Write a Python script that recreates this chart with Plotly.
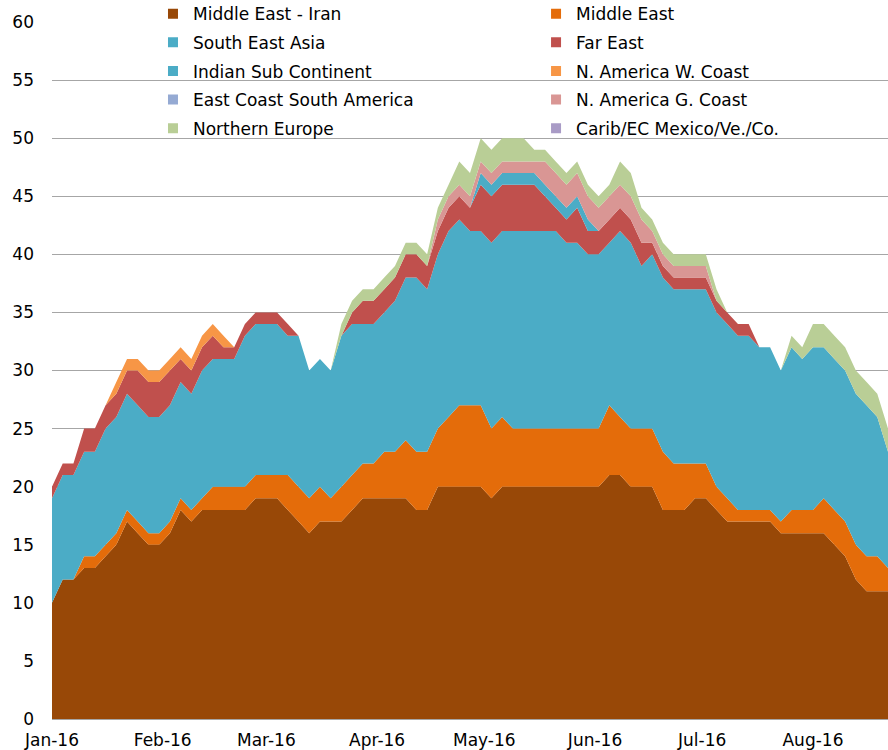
import pandas as pd
import plotly.graph_objects as go

# sampled every 3 days from 1 Jan 2016
dates = pd.date_range('2016-01-01', periods=79, freq='3D')

middle_east_iran = [10, 12, 12, 13, 13, 14, 15, 17, 16, 15,
                    15, 16, 18, 17, 18, 18, 18, 18, 18, 19,
                    19, 19, 18, 17, 16, 17, 17, 17, 18, 19,
                    19, 19, 19, 19, 18, 18, 20, 20, 20, 20,
                    20, 19, 20, 20, 20, 20, 20, 20, 20, 20,
                    20, 20, 21, 21, 20, 20, 20, 18, 18, 18,
                    19, 19, 18, 17, 17, 17, 17, 17, 16, 16,
                    16, 16, 16, 15, 14, 12, 11, 11, 11]
middle_east = [0, 0, 0, 1, 1, 1, 1, 1, 1, 1,
               1, 1, 1, 1, 1, 2, 2, 2, 2, 2,
               2, 2, 3, 3, 3, 3, 2, 3, 3, 3,
               3, 4, 4, 5, 5, 5, 5, 6, 7, 7,
               7, 6, 6, 5, 5, 5, 5, 5, 5, 5,
               5, 5, 6, 5, 5, 5, 5, 5, 4, 4,
               3, 3, 2, 2, 1, 1, 1, 1, 1, 2,
               2, 2, 3, 3, 3, 3, 3, 3, 2]
south_east_asia = [9, 9, 9, 9, 9, 10, 10, 10, 10, 10,
                   10, 10, 10, 10, 11, 11, 11, 11, 13, 13,
                   13, 13, 12, 13, 11, 11, 11, 13, 13, 12,
                   12, 12, 13, 14, 15, 14, 15, 16, 16, 15,
                   15, 16, 16, 17, 17, 17, 17, 17, 16, 16,
                   15, 15, 14, 16, 16, 14, 15, 15, 15, 15,
                   15, 15, 15, 15, 15, 15, 14, 14, 13, 14,
                   13, 14, 13, 13, 13, 13, 13, 12, 10]
far_east = [1, 1, 1, 2, 2, 2, 2, 2, 3, 3,
            3, 3, 2, 2, 2, 2, 1, 1, 1, 1,
            1, 1, 1, 0, 0, 0, 0, 0, 1, 2,
            2, 2, 2, 2, 2, 2, 2, 2, 2, 2,
            4, 4, 4, 4, 4, 4, 3, 2, 2, 3,
            2, 2, 2, 2, 2, 2, 1, 1, 1, 1,
            1, 1, 1, 1, 1, 1, 0, 0, 0, 0,
            0, 0, 0, 0, 0, 0, 0, 0, 0]
indian_sub_continent = [0, 0, 0, 0, 0, 0, 0, 0, 0, 0,
                        0, 0, 0, 0, 0, 0, 0, 0, 0, 0,
                        0, 0, 0, 0, 0, 0, 0, 0, 0, 0,
                        0, 0, 0, 0, 0, 0, 0, 0, 0, 0,
                        1, 1, 1, 1, 1, 1, 1, 1, 1, 1,
                        1, 0, 0, 0, 0, 0, 0, 0, 0, 0,
                        0, 0, 0, 0, 0, 0, 0, 0, 0, 0,
                        0, 0, 0, 0, 0, 0, 0, 0, 0]
na_west_coast = [0, 0, 0, 0, 0, 0, 1, 1, 1, 1,
                 1, 1, 1, 1, 1, 1, 1, 0, 0, 0,
                 0, 0, 0, 0, 0, 0, 0, 0, 0, 0,
                 0, 0, 0, 0, 0, 0, 0, 0, 0, 0,
                 0, 0, 0, 0, 0, 0, 0, 0, 0, 0,
                 0, 0, 0, 0, 0, 0, 0, 0, 0, 0,
                 0, 0, 0, 0, 0, 0, 0, 0, 0, 0,
                 0, 0, 0, 0, 0, 0, 0, 0, 0]
east_coast_south_america = [0, 0, 0, 0, 0, 0, 0, 0, 0, 0,
                            0, 0, 0, 0, 0, 0, 0, 0, 0, 0,
                            0, 0, 0, 0, 0, 0, 0, 0, 0, 0,
                            0, 0, 0, 0, 0, 0, 0, 0, 0, 0,
                            0, 0, 0, 0, 0, 0, 0, 0, 0, 0,
                            0, 0, 0, 0, 0, 0, 0, 0, 0, 0,
                            0, 0, 0, 0, 0, 0, 0, 0, 0, 0,
                            0, 0, 0, 0, 0, 0, 0, 0, 0]
na_gulf_coast = [0, 0, 0, 0, 0, 0, 0, 0, 0, 0,
                 0, 0, 0, 0, 0, 0, 0, 0, 0, 0,
                 0, 0, 0, 0, 0, 0, 0, 0, 0, 0,
                 0, 0, 0, 0, 0, 0, 1, 1, 1, 1,
                 1, 1, 1, 1, 1, 1, 2, 2, 2, 2,
                 2, 2, 2, 2, 2, 2, 1, 1, 1, 1,
                 1, 1, 0, 0, 0, 0, 0, 0, 0, 0,
                 0, 0, 0, 0, 0, 0, 0, 0, 0]
northern_europe = [0, 0, 0, 0, 0, 0, 0, 0, 0, 0,
                   0, 0, 0, 0, 0, 0, 0, 0, 0, 0,
                   0, 0, 0, 0, 0, 0, 0, 1, 1, 1,
                   1, 1, 1, 1, 1, 1, 1, 1, 2, 2,
                   2, 2, 2, 2, 2, 1, 1, 1, 1, 1,
                   1, 1, 1, 2, 2, 1, 1, 1, 1, 1,
                   1, 1, 1, 0, 0, 0, 0, 0, 0, 1,
                   1, 2, 2, 2, 2, 2, 2, 2, 2]
carib_mexico = [0, 0, 0, 0, 0, 0, 0, 0, 0, 0,
                0, 0, 0, 0, 0, 0, 0, 0, 0, 0,
                0, 0, 0, 0, 0, 0, 0, 0, 0, 0,
                0, 0, 0, 0, 0, 0, 0, 0, 0, 0,
                0, 0, 0, 0, 0, 0, 0, 0, 0, 0,
                0, 0, 0, 0, 0, 0, 0, 0, 0, 0,
                0, 0, 0, 0, 0, 0, 0, 0, 0, 0,
                0, 0, 0, 0, 0, 0, 0, 0, 0]

month_ticks = ['2016-01-01', '2016-02-01', '2016-03-01', '2016-04-01',
               '2016-05-01', '2016-06-01', '2016-07-01', '2016-08-01']
month_labels = ['Jan-16', 'Feb-16', 'Mar-16', 'Apr-16',
                'May-16', 'Jun-16', 'Jul-16', 'Aug-16']

# stacking order bottom -> top, with legend column
series = [
    ('Middle East - Iran', middle_east_iran, '#984807', 'legend'),
    ('Middle East', middle_east, '#E46C0A', 'legend2'),
    ('South East Asia', south_east_asia, '#4BACC6', 'legend'),
    ('Far East', far_east, '#C0504D', 'legend2'),
    ('Indian Sub Continent', indian_sub_continent, '#4BACC6', 'legend'),
    ('N. America W. Coast', na_west_coast, '#F79646', 'legend2'),
    ('East Coast South America', east_coast_south_america, '#95AAD3', 'legend'),
    ('N. America G. Coast', na_gulf_coast, '#D99694', 'legend2'),
    ('Northern Europe', northern_europe, '#B9CE96', 'legend'),
    ('Carib/EC Mexico/Ve./Co.', carib_mexico, '#A99BC6', 'legend2'),
]

font_family = 'DejaVu Sans'

fig = go.Figure()

for name, values, color, leg in series:
    fig.add_trace(go.Scatter(
        x=dates, y=values, name=name,
        stackgroup='one', mode='none',
        fillcolor=color, showlegend=False,
        hoverinfo='x+y+name',
    ))

# square swatches for the two legend columns
for name, values, color, leg in series:
    fig.add_trace(go.Scatter(
        x=[None], y=[None], name=name, mode='markers',
        marker=dict(symbol='square', size=10, color=color),
        legend=leg, legendgroup=name, showlegend=True,
    ))

legend_style = dict(
    xanchor='left', yanchor='top', y=1.037,
    orientation='v', traceorder='grouped', tracegroupgap=3.5,
    font=dict(family=font_family, size=17, color='black'),
    bgcolor='rgba(0,0,0,0)',
)

fig.update_layout(
    width=888,
    height=750,
    margin=dict(l=52, r=0, t=22, b=31, autoexpand=False),
    paper_bgcolor='white',
    plot_bgcolor='white',
    font=dict(family=font_family, size=17, color='black'),
    legend=dict(x=0.1208, **legend_style),
    legend2=dict(x=0.579, **legend_style),
    xaxis=dict(
        type='date',
        range=['2016-01-01', '2016-08-22'],
        tickmode='array',
        tickvals=month_ticks,
        ticktext=month_labels,
        showgrid=False,
        showline=True,
        linecolor='#A6A6A6',
        linewidth=1,
        ticks='',
        ticklabelstandoff=6,
        tickfont=dict(family=font_family, size=17, color='black'),
    ),
    yaxis=dict(
        range=[0, 60],
        dtick=5,
        showgrid=True,
        gridcolor='#A6A6A6',
        gridwidth=1,
        zeroline=False,
        ticks='',
        ticklabelstandoff=17,
        tickfont=dict(family=font_family, size=17, color='black'),
    ),
    annotations=[dict(
        text='<b>Source: McQuilling Services</b>',
        xref='paper', yref='paper', x=-0.035, y=-0.0405,
        xanchor='left', yanchor='top', showarrow=False,
        font=dict(family=font_family, size=17, color='#1F3B73'),
    )],
)

# drop the default page margin so the 888x750 figure fills the window
fig.write_html("out.html", config={'displayModeBar': False},
               post_script="document.body.style.margin='0';")
